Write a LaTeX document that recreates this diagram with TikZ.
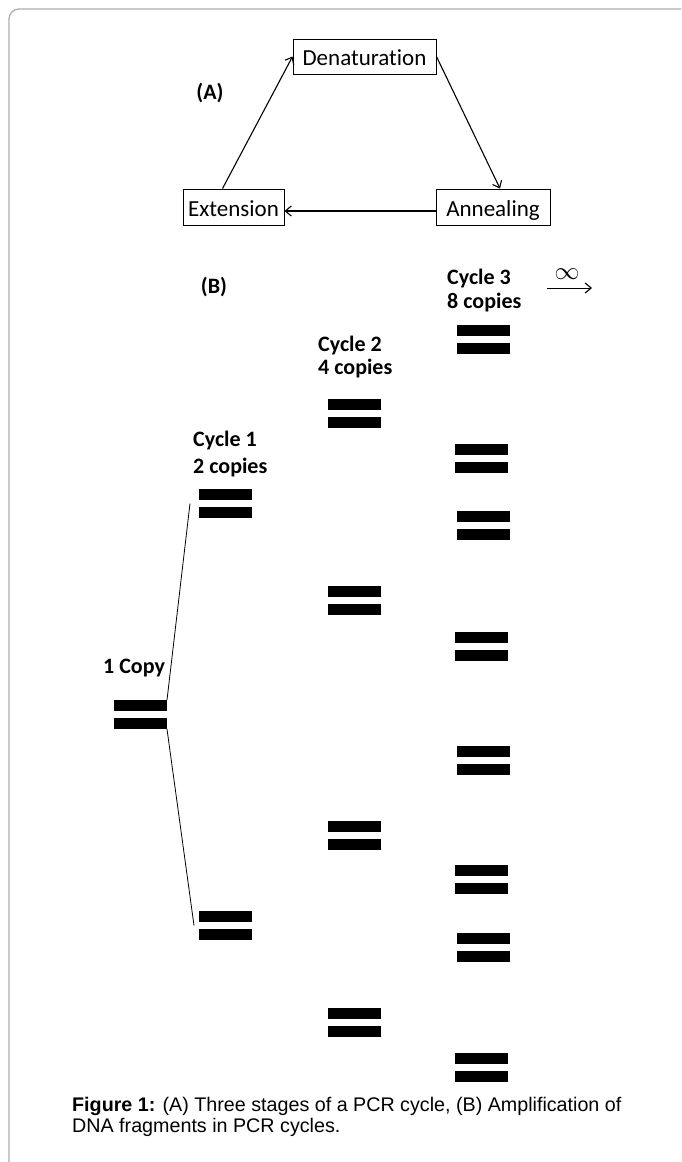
\documentclass[tikz,border=0pt]{standalone}
\usepackage{fontspec}
\setmainfont[Ligatures=NoCommon]{Carlito}
\newfontfamily\capfont{Liberation Sans}
\usetikzlibrary{arrows.meta}
\newcommand\dnapair[3]{%
  \node[pairbox] (#1) at (#2,#3) {};
  \fill (#1.north west) rectangle ([yshift=-11pt]#1.north east);
  \fill ([yshift=11pt]#1.south west) rectangle (#1.south east);}
\begin{document}
\begin{tikzpicture}[x=1pt,y=-1pt,
  box/.style={draw=black, line width=0.9pt, inner sep=0pt, text height=20pt, text depth=2pt, font=\fontsize{23}{26}\selectfont},
  flow/.style={line width=1.1pt, -{Straight Barb[length=6pt,width=10pt,line width=1.1pt]}},
  pairbox/.style={minimum width=53pt, minimum height=29pt, inner sep=0pt, outer sep=0pt, anchor=north west},
  lab/.style={font=\bfseries\fontsize{22}{24}\selectfont, inner sep=0pt, anchor=base west},
  branch/.style={line width=0.8pt},
  capt/.style={font=\capfont\fontsize{19.7}{21}\selectfont, inner sep=0pt, anchor=base west},
]
\useasboundingbox (0,0) rectangle (681,1162);
% frame
\draw[gray!65, line width=1.3pt, rounded corners=10pt] (681,9) -- (9,9) -- (9,1162);

% (A) cycle
\node[box, minimum width=143pt, minimum height=35pt] (den) at (364.5,56.5) {Denaturation};
\node[box, minimum width=101pt, minimum height=36pt] (ext) at (233.5,207) {Extension};
\node[box, minimum width=114pt, minimum height=36pt] (ann) at (493,207) {Annealing};
\draw[flow] ([xshift=-11pt]ext.north) -- (den.west);
\draw[flow] (den.east) -- ([xshift=7pt]ann.north);
\draw[flow] ([yshift=-4pt]ann.west) -- ([yshift=-4pt]ext.east);
\node[lab, anchor=center] (la) at (210,93) {(A)};

% (B) amplification
\node[lab, anchor=center] (lb) at (214,287) {(B)};
\node[lab] (c3a) at (447,284) {Cycle 3};
\node[lab] (c3b) at (447,308) {8 copies};
\node[lab] (c2a) at (318,351) {Cycle 2};
\node[lab] (c2b) at (318,374) {4 copies};
\node[lab] (c1a) at (193,446) {Cycle 1};
\node[lab] (c1b) at (193,473) {2 copies};
\node[lab] (c0) at (103,673) {1 Copy};

\coordinate (i1) at (547,288);
\coordinate (i2) at (592,288);
\draw[flow, line width=0.9pt] (i1) -- (i2);
\node[inner sep=0pt] (inf) at (567,274) {\fontsize{25}{25}\selectfont$\infty$};

\dnapair{p0}{114}{700}
\dnapair{p1a}{199}{489}
\dnapair{p1b}{199}{911}
\dnapair{p2a}{328}{399}
\dnapair{p2b}{328}{586}
\dnapair{p2c}{328}{821}
\dnapair{p2d}{328}{1008}
\dnapair{p3a}{457}{325}
\dnapair{p3b}{455}{444}
\dnapair{p3c}{457}{511}
\dnapair{p3d}{455}{632}
\dnapair{p3e}{457}{746}
\dnapair{p3f}{455}{865}
\dnapair{p3g}{457}{933}
\dnapair{p3h}{455}{1053}

\draw[branch] (p0.north east) -- ([xshift=-9pt]p1a.west);
\draw[branch] (p0.south east) -- ([xshift=-5pt]p1b.west);

% caption
\node[capt] (cap1) at (72,1111) {\textbf{Figure 1:} (A) Three stages of a PCR cycle, (B) Amplification of};
\node[capt] (cap2) at (72,1132) {DNA fragments in PCR cycles.};
\end{tikzpicture}
\end{document}
